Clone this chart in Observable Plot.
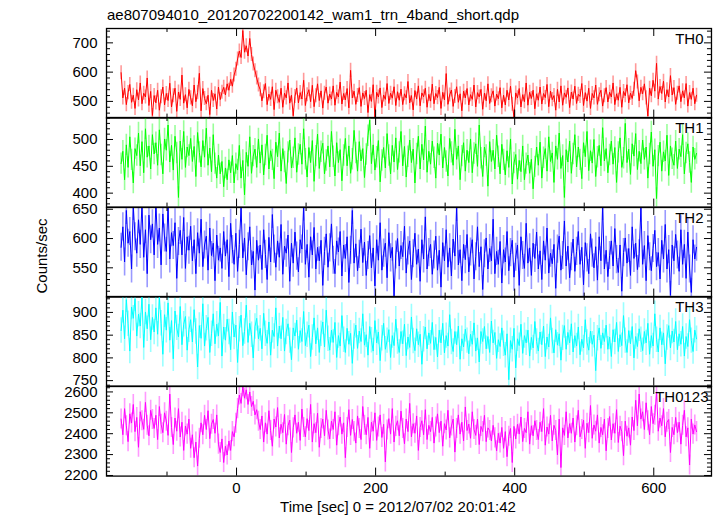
<!DOCTYPE html>
<html><head><meta charset="utf-8">
<script src="https://cdn.jsdelivr.net/npm/d3@7"></script>
<script src="https://cdn.jsdelivr.net/npm/@observablehq/plot@0.6"></script>
<style>
body{margin:0;background:#fff;}
#root{position:relative;width:717px;height:516px;font-family:"Liberation Sans",Arial,sans-serif;color:#000;overflow:hidden;}
.abs{position:absolute;white-space:nowrap;}
</style></head><body><div id="root"></div>
<script>
// ---- data (count rates, 2.5 s sampling starting at t = -166 s) ----
const tStart = -166;
const tStep = 2.5;

const th0 = [
598,512,545,489,530,558,497,521,476,540,505,563,492,528,515,580,486,534,452,520,
495,538,470,516,549,488,527,503,562,481,519,545,466,532,507,590,494,523,478,541,
512,485,556,499,530,596,468,544,510,492,521,455,538,503,526,474,549,506,531,548,
522,560,538,575,552,590,610,645,672,650,742,668,690,655,715,660,628,605,580,556,
540,502,533,561,489,525,507,550,472,538,516,497,545,480,528,512,563,494,521,451,
517,546,495,530,508,572,486,523,540,499,555,482,519,560,503,536,477,528,549,494,
525,508,553,487,531,515,566,491,527,505,544,478,606,512,535,490,520,547,483,529,
510,538,462,523,500,557,446,531,515,546,479,522,507,561,493,528,511,550,486,533,
504,542,489,526,512,568,495,520,471,537,508,553,485,529,516,545,480,524,501,559,
492,527,513,548,476,531,505,595,490,522,539,483,517,550,497,526,468,535,512,544,
488,523,507,556,481,530,515,541,473,528,502,560,493,519,536,484,525,509,547,478,
521,488,538,505,552,490,446,529,512,544,481,523,499,563,487,531,510,538,475,526,
504,549,491,527,513,558,482,535,506,520,470,541,498,553,487,529,514,546,479,532,
508,552,493,524,517,561,486,530,501,545,476,527,512,556,490,523,538,484,519,547,
498,531,515,563,489,526,504,548,480,534,519,557,495,528,510,541,605,566,502,548,
526,560,512,450,545,519,572,535,630,508,551,527,569,498,540,515,588,522,547,490,
528,553,499,536,512,561,484,530,507,545,492,521
];

const th1 = [
455,478,425,490,448,505,462,419,483,470,512,451,496,438,520,467,488,445,509,473,
494,452,518,471,436,501,480,527,458,489,443,506,475,392,497,463,515,448,486,470,
502,459,487,431,513,476,449,498,467,521,452,484,440,509,455,428,471,436,459,412,
447,425,462,438,470,419,455,443,489,428,461,397,476,450,505,437,469,482,448,501,
456,490,434,471,508,445,479,462,427,495,468,512,441,483,458,418,476,499,447,466,
503,439,472,491,454,520,463,430,485,457,498,422,469,510,446,477,493,436,461,488,
449,515,468,432,494,457,481,423,470,502,451,488,437,463,517,475,441,496,460,483,
429,472,507,536,455,490,443,467,498,421,461,485,447,511,470,436,489,458,503,444,
476,515,451,487,430,468,499,457,482,419,473,506,445,491,462,525,439,478,454,497,
466,428,493,471,510,447,485,459,432,502,476,452,519,463,488,425,469,494,441,480,
457,501,438,474,492,450,527,465,431,486,470,413,496,459,480,445,508,468,436,491,
462,434,479,448,501,417,456,472,426,461,440,488,425,455,471,437,463,408,449,486,
452,495,428,466,483,441,505,459,475,420,488,463,512,446,470,392,481,458,497,437,
473,509,449,486,462,427,494,468,515,442,479,456,500,431,467,489,451,522,460,483,
438,471,497,454,485,420,476,503,448,465,530,457,482,435,492,469,511,444,478,455,
499,463,486,428,473,514,450,481,390,469,495,441,477,460,508,433,488,464,452,497,
446,482,468,509,436,475,492,457,420,486,463,474
];

const th2 = [
585,620,560,648,592,612,548,655,603,575,632,590,658,568,615,540,640,598,625,572,
660,590,618,555,642,601,578,656,565,610,588,627,532,595,614,572,636,549,603,580,
621,562,598,540,610,575,633,552,589,604,546,618,571,592,528,606,563,584,549,612,
570,598,535,626,581,556,609,544,590,652,567,601,538,586,620,555,578,512,597,563,
589,547,615,573,530,602,560,641,582,551,596,568,624,539,587,575,606,527,592,558,
611,570,543,598,582,654,556,590,534,603,572,619,548,585,562,597,520,578,608,551,
584,625,563,540,596,577,612,536,589,566,603,525,580,648,558,591,545,573,616,559,
594,537,571,605,550,584,519,598,563,627,546,575,592,533,610,567,585,502,572,600,
553,588,569,621,541,579,596,530,574,609,556,582,527,598,565,637,548,576,590,539,
572,604,546,580,517,593,562,615,551,584,536,599,570,653,555,581,528,590,564,607,
543,577,598,531,569,620,552,586,513,574,601,548,583,562,633,540,578,556,595,524,
581,560,612,545,576,597,534,568,589,520,603,571,549,626,558,584,537,592,566,611,
548,579,530,596,563,618,541,575,557,590,515,582,604,546,571,630,553,587,533,569,
599,544,578,612,556,585,521,593,567,540,608,575,550,586,529,603,562,655,548,580,
535,571,596,553,617,564,542,589,510,576,601,558,583,537,620,566,592,547,574,652,
556,588,528,605,569,545,583,614,552,576,531,597,565,624,548,581,503,589,562,607,
572,544,615,556,590,532,611,548,508,598,565,585
];

const th3 = [
860,905,842,928,875,815,912,887,930,848,896,870,935,823,901,864,918,840,889,857,
910,852,934,876,808,895,861,921,839,882,798,903,866,846,913,829,874,891,817,862,
884,835,906,858,780,871,843,919,826,865,889,812,853,897,831,874,848,922,804,868,
839,885,857,818,901,846,872,790,863,894,827,858,916,834,876,851,800,869,887,842,
865,820,898,853,832,879,806,861,847,910,826,870,842,889,815,857,875,838,796,866,
848,883,819,860,836,902,827,851,872,803,845,888,831,866,812,853,879,824,905,842,
817,861,834,878,801,849,826,893,840,812,865,830,854,788,847,872,821,859,836,897,
828,851,806,869,839,815,882,833,857,794,843,876,819,838,862,801,849,827,885,836,
812,858,831,874,805,846,823,890,837,816,864,829,852,786,841,868,820,855,832,878,
818,845,802,861,833,876,811,849,826,895,835,814,858,829,870,797,842,824,863,838,
809,852,830,877,815,844,791,858,836,869,820,847,812,881,833,856,799,840,825,866,
831,806,853,752,838,819,865,778,842,827,874,810,849,833,861,804,845,822,880,836,
815,857,829,870,803,846,824,888,837,811,862,828,853,795,844,871,819,856,833,875,
813,849,826,868,807,841,822,884,834,817,859,830,850,772,843,866,821,855,836,872,
819,846,803,862,835,878,814,851,827,893,838,812,860,831,869,800,847,825,864,840,
816,858,833,876,808,849,826,897,840,813,866,829,855,787,845,871,822,859,835,880,
818,853,830,869,804,847,825,884,838,814,861,842
];

const th0123 = [
2470,2395,2520,2438,2362,2495,2451,2540,2410,2478,2335,2505,2462,2421,2550,2440,2390,2512,2468,2425,
2488,2372,2530,2445,2405,2500,2460,2392,2590,2430,2348,2475,2412,2520,2384,2455,2320,2437,2398,2470,
2330,2395,2285,2360,2245,2378,2452,2395,2488,2420,2510,2376,2445,2468,2402,2490,2350,2310,2375,2262,
2340,2298,2365,2320,2410,2385,2450,2520,2585,2545,2625,2570,2610,2540,2600,2530,2555,2490,2515,2460,
2420,2485,2360,2452,2398,2510,2415,2340,2470,2432,2525,2380,2445,2405,2492,2350,2438,2465,2310,2428,
2490,2402,2455,2368,2518,2430,2385,2472,2415,2540,2360,2448,2405,2498,2335,2425,2470,2390,2512,2418,
2375,2460,2420,2505,2345,2438,2480,2398,2452,2285,2430,2515,2392,2468,2410,2355,2485,2425,2372,2530,
2440,2395,2478,2330,2455,2412,2500,2368,2432,2490,2382,2445,2265,2418,2472,2398,2520,2360,2435,2462,
2390,2508,2425,2352,2470,2410,2545,2385,2448,2402,2485,2320,2430,2462,2395,2515,2372,2440,2410,2478,
2355,2432,2495,2405,2460,2340,2448,2418,2512,2380,2437,2470,2312,2425,2490,2398,2455,2365,2528,2415,
2446,2378,2505,2420,2392,2470,2348,2435,2410,2488,2362,2428,2415,2365,2440,2380,2318,2402,2355,2430,
2330,2410,2290,2388,2425,2262,2435,2375,2445,2398,2480,2362,2425,2405,2505,2350,2438,2390,2462,2415,
2372,2455,2410,2520,2345,2432,2398,2488,2365,2440,2415,2298,2470,2238,2428,2392,2505,2380,2448,2402,
2475,2360,2438,2512,2385,2420,2465,2330,2450,2405,2535,2378,2442,2412,2490,2355,2430,2395,2470,2318,
2425,2482,2370,2448,2402,2515,2358,2436,2410,2295,2460,2388,2428,2345,2480,2415,2560,2438,2590,2470,
2505,2420,2548,2462,2395,2530,2448,2488,2600,2412,2475,2438,2520,2385,2455,2468,2310,2430,2395,2478,
2405,2455,2350,2440,2512,2385,2428,2250,2470,2398,2442,2410
];

// panel names, y tick labels, axis ranges, error-bar half sizes
const names = ["TH0","TH1","TH2","TH3","TH0123"];
const yTicks = [[500,600,700],[400,450,500],[550,600,650],[750,800,850,900],[2200,2300,2400,2500,2600]];
const yDomains = [[443,749],[374,541],[500,653],[738,935],[2197,2626]];
const yMinorStep = [20,10,10,10,20];
const errors = [24, 20, 24, 28, 48];
const xTicks = [0,200,400,600];
const xMinor = [-100,100,300,500];
const xDomain = [-187,683];
const series = [th0, th1, th2, th3, th0123];
const colors = ["#ff0000","#00ff00","#0000ff","#00ffff","#ff00ff"];

// ---- layout ----
const root = document.getElementById("root");
const W = 717, ML = 106, MR = 6, PH = 89.6, TOP0 = 27.5;
const PW = W - ML - MR;
const FONT = "'Liberation Sans', Arial, Helvetica, sans-serif";

function addText(txt, css) {
  const d = document.createElement("div");
  d.className = "abs";
  d.textContent = txt;
  Object.assign(d.style, css);
  root.appendChild(d);
  return d;
}

addText("ae807094010_20120702200142_wam1_trn_4band_short.qdp",
  {left:"107px", top:"7px", fontSize:"15px", lineHeight:"15px"});

series.forEach((vals, k) => {
  const last = k === series.length - 1;
  const mt = 10, mb = last ? 34 : 10;
  const e = errors[k];
  const data = vals.map((v, i) => ({t: tStart + i * tStep, v, lo: v - e, hi: v + e}));
  const major = yTicks[k];
  const dom = yDomains[k];
  const st = yMinorStep[k];
  const minor = d3.range(Math.ceil(dom[0] / st) * st, dom[1], st).filter(v => !major.includes(v));
  const tk = {stroke: "#000", strokeWidth: 1};
  const marks = [
    Plot.ruleX(data, {x: "t", y1: "lo", y2: "hi", stroke: colors[k], strokeOpacity: 0.4, strokeWidth: 1.6, clip: true}),
    Plot.line(data, {x: "t", y: "v", stroke: colors[k], strokeWidth: 1, clip: true}),
    Plot.tickX(xTicks, {x: d => d, insetTop: PH - 8, ...tk}),
    Plot.tickX(xTicks, {x: d => d, insetBottom: PH - 8, ...tk}),
    Plot.tickX(xMinor, {x: d => d, insetTop: PH - 4, ...tk}),
    Plot.tickX(xMinor, {x: d => d, insetBottom: PH - 4, ...tk}),
    Plot.tickY(major, {y: d => d, insetRight: PW - 7, ...tk}),
    Plot.tickY(major, {y: d => d, insetLeft: PW - 7, ...tk}),
    Plot.tickY(minor, {y: d => d, insetRight: PW - 4, ...tk}),
    Plot.tickY(minor, {y: d => d, insetLeft: PW - 4, ...tk}),
    Plot.frame({stroke: "#000", strokeWidth: 1.3}),
    Plot.axisY(major, {anchor: "left", tickSize: 0, tickPadding: 9, fontSize: 15, label: null, tickFormat: d => String(d)}),
    Plot.text([names[k]], {frameAnchor: "top-right", dx: last ? -3 : -8, dy: 16, lineAnchor: "bottom", fontSize: 15, fill: "#000"})
  ];
  if (last) marks.push(Plot.axisX(xTicks, {anchor: "bottom", tickSize: 0, tickPadding: 6, fontSize: 15, label: null, tickFormat: d => String(d)}));
  const svg = Plot.plot({
    width: W, height: PH + mt + mb,
    marginLeft: ML, marginRight: MR, marginTop: mt, marginBottom: mb,
    x: {domain: xDomain, axis: null},
    y: {domain: dom, axis: null},
    style: {fontFamily: FONT, fontSize: "15px", background: "transparent", overflow: "visible", color: "#000"},
    marks
  });
  svg.style.position = "absolute";
  svg.style.left = "0px";
  svg.style.top = (TOP0 + k * PH - mt) + "px";
  root.appendChild(svg);
});

addText("Time [sec] 0 = 2012/07/02 20:01:42",
  {left:"398px", top:"499px", fontSize:"15px", lineHeight:"15px", transform:"translateX(-50%)"});
addText("Counts/sec",
  {left:"41px", top:"256px", fontSize:"15px", lineHeight:"15px", transform:"translate(-50%,-50%) rotate(-90deg)"});
</script></body></html>
